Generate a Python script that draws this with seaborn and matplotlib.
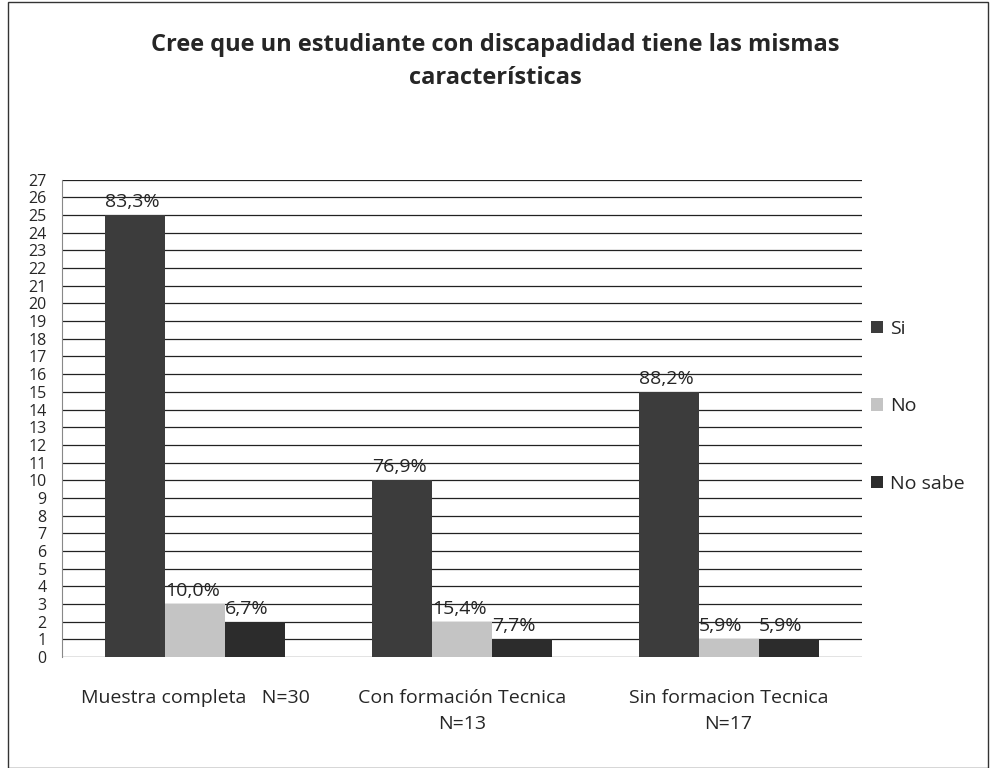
import pandas as pd
import seaborn as sns
import matplotlib.pyplot as plt
from matplotlib.patches import Rectangle, Patch

groups = ["Muestra completa   N=30", "Con formación Tecnica\nN=13", "Sin formacion Tecnica\nN=17"]
respuestas = ["Si", "No", "No sabe"]
si = [25, 10, 15]
no = [3, 2, 1]
no_sabe = [2, 1, 1]
pct_si = ["83,3%", "76,9%", "88,2%"]
pct_no = ["10,0%", "15,4%", "5,9%"]
pct_no_sabe = ["6,7%", "7,7%", "5,9%"]
colores = ["#3c3c3c", "#c4c4c4", "#2c2c2c"]

rows = []
for i, g in enumerate(groups):
    for r, vals in zip(respuestas, [si, no, no_sabe]):
        rows.append({"grupo": g, "resp": r, "n": vals[i]})
df = pd.DataFrame(rows)

sns.set_style("white")
plt.rcParams['font.family'] = ['Open Sans', 'DejaVu Sans']

fig = plt.figure(figsize=(9.9, 7.68), dpi=100)
ax = fig.add_axes([0.0626, 0.1445, 0.808, 0.6215])

sns.barplot(data=df, x="grupo", y="n", hue="resp", hue_order=respuestas,
            palette=colores, width=0.675, gap=0, saturation=1,
            edgecolor="none", legend=False, ax=ax, zorder=3)

ax.set_ylim(0, 27)
ax.set_xlim(-0.5, 2.5)
ax.set_yticks(range(0, 28))
ax.yaxis.grid(True, color="#222222", linewidth=0.9, zorder=0)
ax.set_axisbelow(True)
ax.tick_params(axis="y", length=0, pad=11, labelsize=11.5)
ax.tick_params(axis="x", length=0, pad=23)
ax.set_xticks(ax.get_xticks())
ax.set_xticklabels(groups, fontsize=14, linespacing=1.55)
ax.set_xlabel("")
ax.set_ylabel("")
for s in ["top", "right", "bottom"]:
    ax.spines[s].set_visible(False)
ax.spines["left"].set_color("#888888")
ax.spines["left"].set_linewidth(0.8)

for cont, labs in zip(ax.containers, [pct_si, pct_no, pct_no_sabe]):
    for bar, lab in zip(cont, labs):
        ax.annotate(lab, (bar.get_x(), bar.get_height()), xytext=(0, 3),
                    textcoords="offset points", ha="left", va="bottom",
                    fontsize=14, zorder=4)

handles = [Patch(facecolor=c, edgecolor="none") for c in colores]
fig.legend(handles, respuestas, loc="center left", bbox_to_anchor=(0.862, 0.471),
           frameon=False, fontsize=14, handlelength=0.6, handleheight=0.6,
           handletextpad=0.4, labelspacing=3.05)

fig.suptitle("Cree que un estudiante con discapadidad tiene las mismas\ncaracterísticas",
             x=0.5, y=0.957, fontsize=17, fontweight="bold", linespacing=1.5)

fig.patches.append(Rectangle((0.008, 0.0), 0.99, 0.997, transform=fig.transFigure,
                             fill=False, edgecolor="#333333", linewidth=1))

plt.savefig("out.png", dpi=100)
